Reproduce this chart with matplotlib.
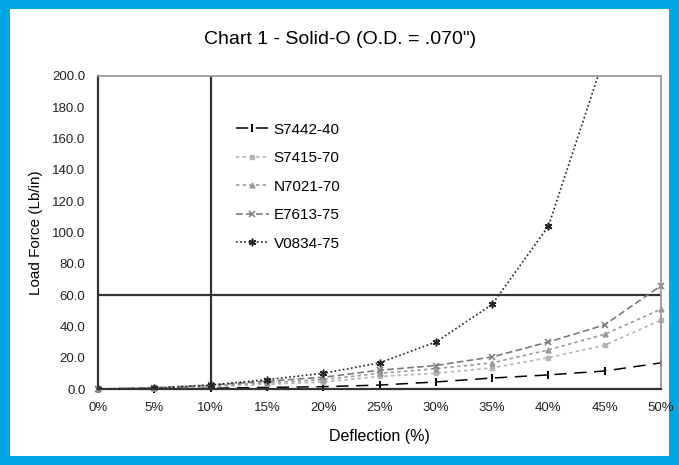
import matplotlib
matplotlib.use("Agg")
import matplotlib.pyplot as plt
from matplotlib.patches import Rectangle

plt.rcParams['font.family'] = ['Liberation Sans', 'DejaVu Sans']

deflection = [0, 5, 10, 15, 20, 25, 30, 35, 40, 45, 50]

s7442_40 = [0, 0.2, 0.5, 1.0, 1.5, 2.5, 4.5, 7.0, 9.0, 11.5, 16.7]
s7415_70 = [0, 0.5, 1.5, 3.0, 4.5, 8.0, 10.0, 13.5, 20.0, 28.0, 44.0]
n7021_70 = [0, 0.6, 2.0, 4.0, 6.0, 10.0, 13.0, 16.7, 25.0, 35.0, 51.0]
e7613_75 = [0, 0.8, 2.5, 5.0, 7.5, 12.0, 15.0, 20.5, 30.0, 41.0, 66.0]
v0834_75_x = [0, 5, 10, 15, 20, 25, 30, 35, 40, 45]
v0834_75 = [0, 0.5, 2.5, 6.0, 10.0, 16.7, 30.0, 54.0, 104.0, 213.0]

names = ["S7442-40", "S7415-70", "N7021-70", "E7613-75", "V0834-75"]

fig = plt.figure(figsize=(6.79, 4.65), dpi=100)
fig.patch.set_facecolor('#00a6e6')
fig.patches.append(Rectangle((10/679, 9/465), 659/679, 447/465, transform=fig.transFigure,
                             facecolor='white', edgecolor='none', zorder=-10))

ax = fig.add_axes([98/679, 76/465, 563/679, 313/465])
ax.set_zorder(5)

ax.plot(deflection, s7442_40, color='black', lw=1.1, ls=(0, (8, 5)),
        marker='|', ms=6, mew=1.4, label=names[0], clip_on=False)
ax.plot(deflection, s7415_70, color='#b4b4b4', lw=1.2, ls=(0, (2, 2)),
        marker='s', ms=3.5, label=names[1], clip_on=False)
ax.plot(deflection, n7021_70, color='#999999', lw=1.2, ls=(0, (2, 2)),
        marker='^', ms=3.5, label=names[2], clip_on=False)
ax.plot(deflection, e7613_75, color='#7a7a7a', lw=1.2, ls=(0, (4, 2)),
        marker='x', ms=4.5, mew=1.1, label=names[3], clip_on=False)
ax.plot(v0834_75_x, v0834_75, color='#222222', lw=1.2, ls=(0, (1, 1.5)),
        marker=(6, 2, 0), ms=5.5, mew=1.1, label=names[4])

ax.axhline(60, color='#333333', lw=1.6, zorder=1)
ax.axvline(10, color='#333333', lw=1.6, zorder=1)

ax.set_xlim(0, 50)
ax.set_ylim(0, 200)
ax.set_xticks(deflection)
ax.set_xticklabels([f"{d}%" for d in deflection])
ax.set_yticks(range(0, 201, 20))
ax.set_yticklabels([f"{v:.1f}" for v in range(0, 201, 20)])
ax.tick_params(length=0, labelsize=9.5, colors='#222222', pad=9)

for s in ['left', 'bottom']:
    ax.spines[s].set_color('#333333')
    ax.spines[s].set_linewidth(1.6)
for s in ['top', 'right']:
    ax.spines[s].set_color('#9a9a9a')
    ax.spines[s].set_linewidth(1.3)

ax.set_xlabel("Deflection (%)", fontsize=11.5, labelpad=11)
ax.set_ylabel("Load Force (Lb/in)", fontsize=11, labelpad=7)
fig.text(340/679, 1 - 39/465, 'Chart 1 - Solid-O (O.D. = .070")', ha='center', va='center', fontsize=14)

ax.legend(loc='upper left', bbox_to_anchor=(0.22, 0.895), frameon=False, fontsize=11,
          handlelength=2.2, handletextpad=0.3, labelspacing=0.95)

fig.savefig("out.png", dpi=100)
